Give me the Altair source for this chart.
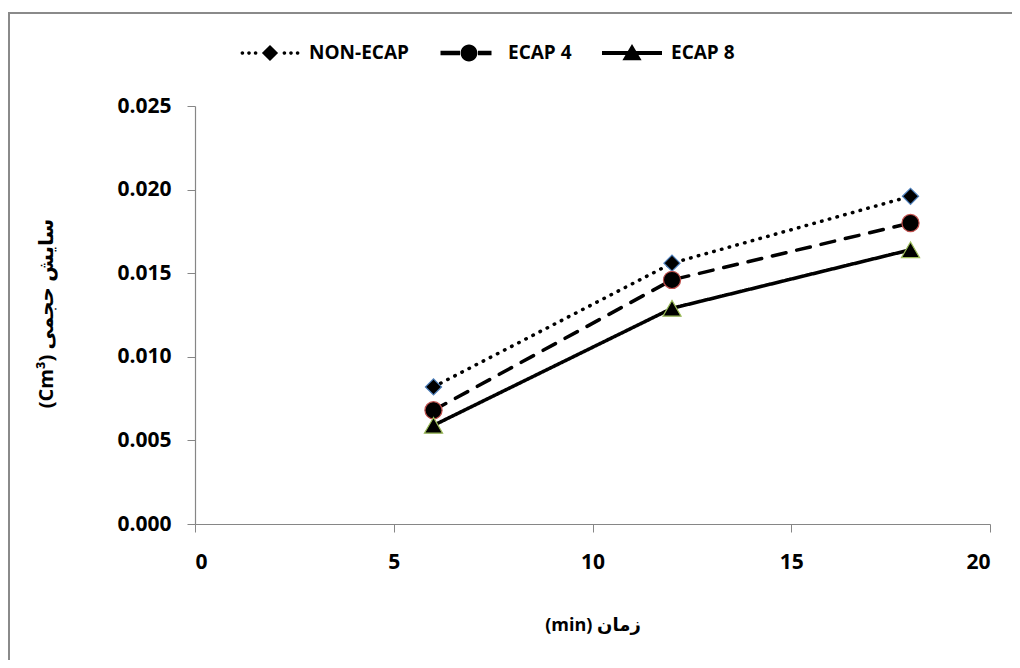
import altair as alt
import pandas as pd

# ---- data ----
times = [6, 12, 18]
series_names = ["NON-ECAP", "ECAP 4", "ECAP 8"]
non_ecap = [0.0082, 0.0156, 0.0196]
ecap4 = [0.0068, 0.0146, 0.0180]
ecap8 = [0.0059, 0.0129, 0.0164]
x_ticks = [0, 5, 10, 15, 20]
y_ticks = [0.000, 0.005, 0.010, 0.015, 0.020, 0.025]

rows = []
for name, vals in zip(series_names, [non_ecap, ecap4, ecap8]):
    for t, v in zip(times, vals):
        rows.append({"t": t, "v": v, "series": name})
df = pd.DataFrame(rows)

FONT = "Open Sans, DejaVu Sans, sans-serif"


# ---- legend glyph paths (line sample + marker), unit box -1..1 ----
def circ(cx, cy, r):
    return (f"M{cx - r},{cy} A{r},{r} 0 1,1 {cx + r},{cy} "
            f"A{r},{r} 0 1,1 {cx - r},{cy} Z")


def rect(x0, x1, h):
    return f"M{x0},{-h} L{x1},{-h} L{x1},{h} L{x0},{h} Z"


dotted = " ".join(circ(x, 0, 0.06) for x in [-0.92, -0.7, -0.48, 0.48, 0.7, 0.92])
dotted += " M0,-0.27 L0.27,0 L0,0.27 L-0.27,0 Z"
dashed = rect(-0.95, -0.3, 0.075) + " " + rect(0.3, 0.75, 0.075) + " " + circ(0, 0, 0.28)
solid = rect(-1, 1, 0.07) + " M0,-0.3 L0.32,0.24 L-0.32,0.24 Z"
legend_paths = [dotted, dashed, solid]

x_enc = alt.X("t:Q", scale=alt.Scale(domain=[0, 20], nice=False),
              axis=alt.Axis(values=x_ticks, format="d", title="(min) زمان",
                            titleY=101, titleBaseline="middle",
                            labelPadding=19))
y_enc = alt.Y("v:Q", scale=alt.Scale(domain=[0, 0.025], nice=False),
              axis=alt.Axis(values=y_ticks, format=".3f",
                            title="(Cm³) سایش حجمی", titleFontSize=20,
                            titleX=-149, titleY=207,
                            titleAlign="center", titleBaseline="middle",
                            labelPadding=16))

base = alt.Chart(df)

lines = base.mark_line(color="black", strokeWidth=3.5, strokeCap="round").encode(
    x=x_enc, y=y_enc,
    strokeDash=alt.StrokeDash("series:N",
                              scale=alt.Scale(domain=series_names,
                                              range=[[0.5, 7.5], [14, 11], [1, 0]]),
                              legend=None),
)

points = base.mark_point(filled=False, fill="black", strokeWidth=1.2, opacity=1).encode(
    x="t:Q", y="v:Q",
    shape=alt.Shape("series:N",
                    scale=alt.Scale(domain=series_names,
                                    range=["diamond", "circle", "triangle-up"]),
                    legend=None),
    stroke=alt.Stroke("series:N",
                      scale=alt.Scale(domain=series_names,
                                      range=["#4f81bd", "#c0504d", "#9bbb59"]),
                      legend=None),
    size=alt.Size("series:N",
                  scale=alt.Scale(domain=series_names, range=[260, 330, 420]),
                  legend=None),
)

legend_layer = base.mark_point(filled=True, color="black", opacity=0).encode(
    x="t:Q", y="v:Q",
    shape=alt.Shape("series:N",
                    scale=alt.Scale(domain=series_names, range=legend_paths),
                    legend=alt.Legend(title=None, orient="none", direction="horizontal",
                                      legendX=45, legendY=-83, padding=0,
                                      symbolSize=3600, symbolOpacity=1,
                                      symbolFillColor="black", symbolStrokeColor="black",
                                      symbolStrokeWidth=0,
                                      labelOffset=9, columnPadding=30,
                                      labelFont=FONT, labelFontSize=19,
                                      labelFontWeight="bold", labelColor="black")),
)

frame_df = pd.DataFrame({"k": [0]})
frame_v = alt.Chart(frame_df).mark_rule(color="#8a8a8a", strokeWidth=2).encode(
    x=alt.value(-186), y=alt.value(-94), y2=alt.value(580))
frame_h = alt.Chart(frame_df).mark_rule(color="#8a8a8a", strokeWidth=2).encode(
    x=alt.value(-187), x2=alt.value(830), y=alt.value(-93))

chart = alt.layer(lines, points, legend_layer, frame_v, frame_h).resolve_scale(
    shape="independent"
).properties(
    width=795, height=418,
    autosize=alt.AutoSizeParams(type="none"),
    padding={"left": 187, "top": 98, "right": 22, "bottom": 136},
).configure_view(stroke=None).configure_axis(
    grid=False,
    labelFont=FONT, labelFontSize=21, labelFontWeight="bold", labelColor="black",
    titleFont=FONT, titleFontSize=18, titleFontWeight="bold", titleColor="black",
    domainColor="#868686", tickColor="#868686", tickSize=8, domainWidth=1.2,
)

chart.save("out.html", embed_options={"renderer": "svg", "actions": False})
